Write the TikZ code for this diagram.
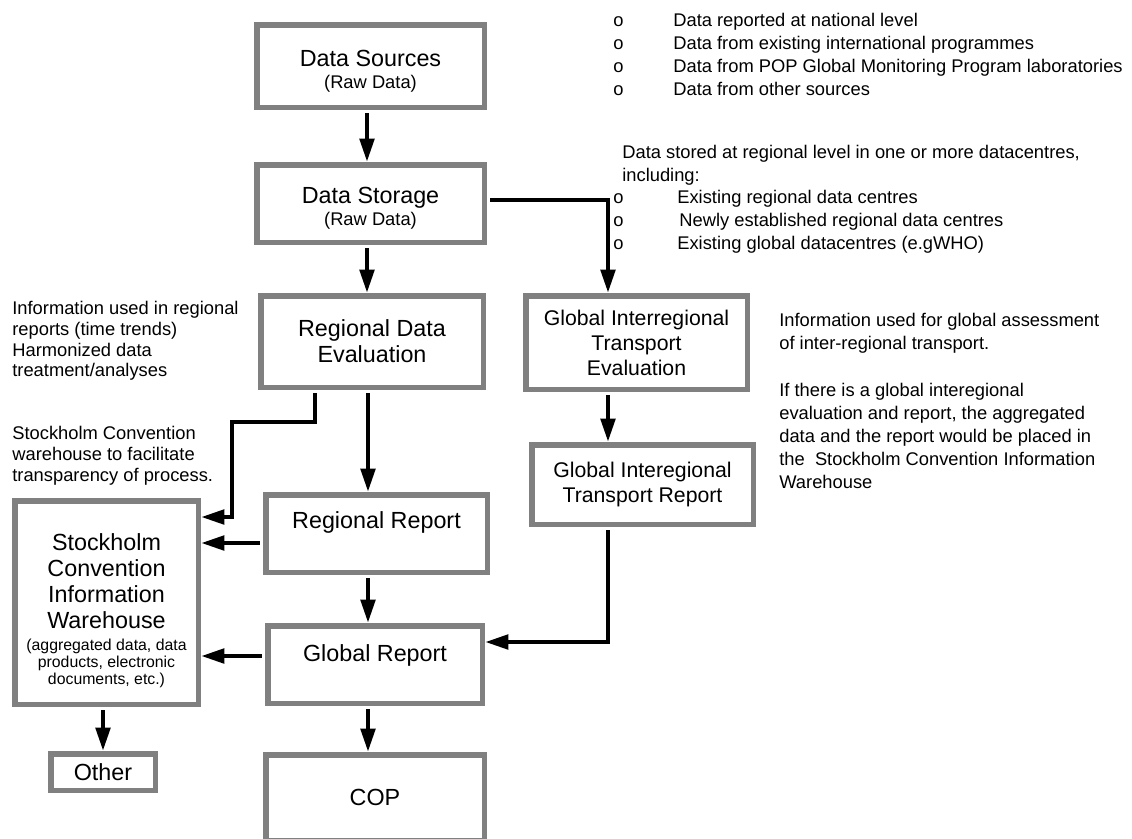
\documentclass[tikz,border=0pt]{standalone}
\usepackage{fontspec}
\setmainfont{Liberation Sans}
\usepackage{tikz}
\usetikzlibrary{arrows.meta}
\definecolor{boxgray}{RGB}{128,128,128}

\begin{document}
\begin{tikzpicture}[x=0.6pt,y=-0.6pt,
	box/.style={draw=boxgray,line width=3.3pt,fill=white,inner sep=0pt,align=center,font=\fontsize{14pt}{15.6pt}\selectfont},
	narrowbox/.style={box,font=\fontsize{12.75pt}{15pt}\selectfont},
	lifted/.style={text height=10pt,text depth=#1},
	flow/.style={line width=2.7pt,-{Triangle[length=14pt,width=8.5pt]},shorten <=2pt},
	sidenote/.style={inner sep=0pt,anchor=north west,font=\fontsize{11pt}{12.4pt}\selectfont},
	rightnote/.style={inner sep=0pt,anchor=north west,font=\fontsize{11pt}{13.7pt}\selectfont}]
			\useasboundingbox (0,0) rectangle (1132,838);
			\node [box,minimum width=136.5pt,minimum height=49.5pt] (src) at (370.5,66) {\rule{0pt}{15.5pt}Data Sources\\[-2.4pt]{\fontsize{11pt}{13pt}\selectfont (Raw Data)}};
			\node [box,minimum width=136.5pt,minimum height=46.5pt] (stor) at (370.5,203.5) {\rule{0pt}{15.5pt}Data Storage\\[-2.4pt]{\fontsize{11pt}{13pt}\selectfont (Raw Data)}};
			\node [box,minimum width=133.5pt,minimum height=54.9pt] (rde) at (372,341.5) {Regional Data\\Evaluation};
			\node [narrowbox,minimum width=132.9pt,minimum height=56.1pt] (gite) at (636.5,342.5) {Global Interregional\\Transport\\Evaluation};
			\node [narrowbox,minimum width=132.9pt,minimum height=47.7pt] (gitr) at (642.5,484.5) {Global Interegional\\Transport Report};
			\node [box,lifted=16.2pt,minimum width=132.9pt,minimum height=46.5pt] (rr) at (376.5,533.5) {Regional Report};
			\node [box,minimum width=110.1pt,minimum height=122.1pt] (wh) at (106.5,602.5) {\rule{0pt}{21pt}Stockholm\\Convention\\Information\\Warehouse\\[-2pt]{\fontsize{9.5pt}{10.2pt}\selectfont\begin{tabular}[t]{@{}c@{}}(aggregated data, data\\products, electronic\\documents, etc.)\end{tabular}}};
			\node [box,lifted=13.8pt,minimum width=128.7pt,minimum height=46.5pt] (gr) at (375,664.5) {Global Report};
			\node [box,minimum width=62.7pt,minimum height=21.9pt] (oth) at (103,772) {Other};
			\node [box,minimum width=131.1pt,minimum height=51.3pt] (cop) at (375,797.5) {COP};
			\draw [flow] (src.south -| 367,0) -- (stor.north -| 367,0);
			\draw [flow] (stor.south -| 367,0) -- (rde.north -| 367,0);
			\draw [flow] (stor.east |- 0,200) -| (gite.north -| 608,0);
			\draw [flow] (rde.south -| 368,0) -- (rr.north -| 368,0);
			\draw [flow] (rde.south -| 315,0) |- (232,422) |- (wh.east |- 0,517);
			\draw [flow] (rr.west |- 0,543) -- (wh.east |- 0,543);
			\draw [flow] (gite.south -| 608,0) -- (gitr.north -| 608,0);
			\draw [flow] (gitr.south -| 608,0) |- (gr.east |- 0,642);
			\draw [flow] (rr.south -| 368,0) -- (gr.north -| 368,0);
			\draw [flow] (gr.west |- 0,656) -- (wh.east |- 0,656);
			\draw [flow] (gr.south -| 368,0) -- (cop.north -| 368,0);
			\draw [flow] (wh.south -| 103,0) -- (oth.north -| 103,0);
			\node [sidenote] (infonote) at (12,300) {\begin{tabular}{@{}l@{}}Information used in regional\\reports (time trends)\\Harmonized data\\treatment/analyses\end{tabular}};
			\node [sidenote] (whnote) at (12,425) {\begin{tabular}{@{}l@{}}Stockholm Convention\\warehouse to facilitate\\transparency of process.\end{tabular}};
			\node [rightnote] (srclist) at (613,10.5) {\begin{tabular}{@{}p{36pt}@{}l@{}}o&Data reported at national level\\o&Data from existing international programmes\\o&Data from POP Global Monitoring Program laboratories\\o&Data from other sources\end{tabular}};
			\node [rightnote] (storenote) at (622,142.4) {\begin{tabular}{@{}l@{}}Data stored at regional level in one or more datacentres,\\including:\end{tabular}};
			\node [rightnote] (storelist) at (613,187.4) {\begin{tabular}{@{}p{38.4pt}@{}l@{}}o&Existing regional data centres\\o&\hspace{1.2pt}Newly established regional data centres\\o&Existing global datacentres (e.gWHO)\end{tabular}};
			\node [rightnote] (gitenote) at (779,310.4) {\begin{tabular}{@{}l@{}}Information used for global assessment\\of inter-regional transport.\end{tabular}};
			\node [rightnote] (gitrnote) at (779,380.4) {\begin{tabular}{@{}l@{}}If there is a global interegional\\evaluation and report, the aggregated\\data and the report would be placed in\\the\ \ Stockholm Convention Information\\Warehouse\end{tabular}};
		\end{tikzpicture}
\end{document}
